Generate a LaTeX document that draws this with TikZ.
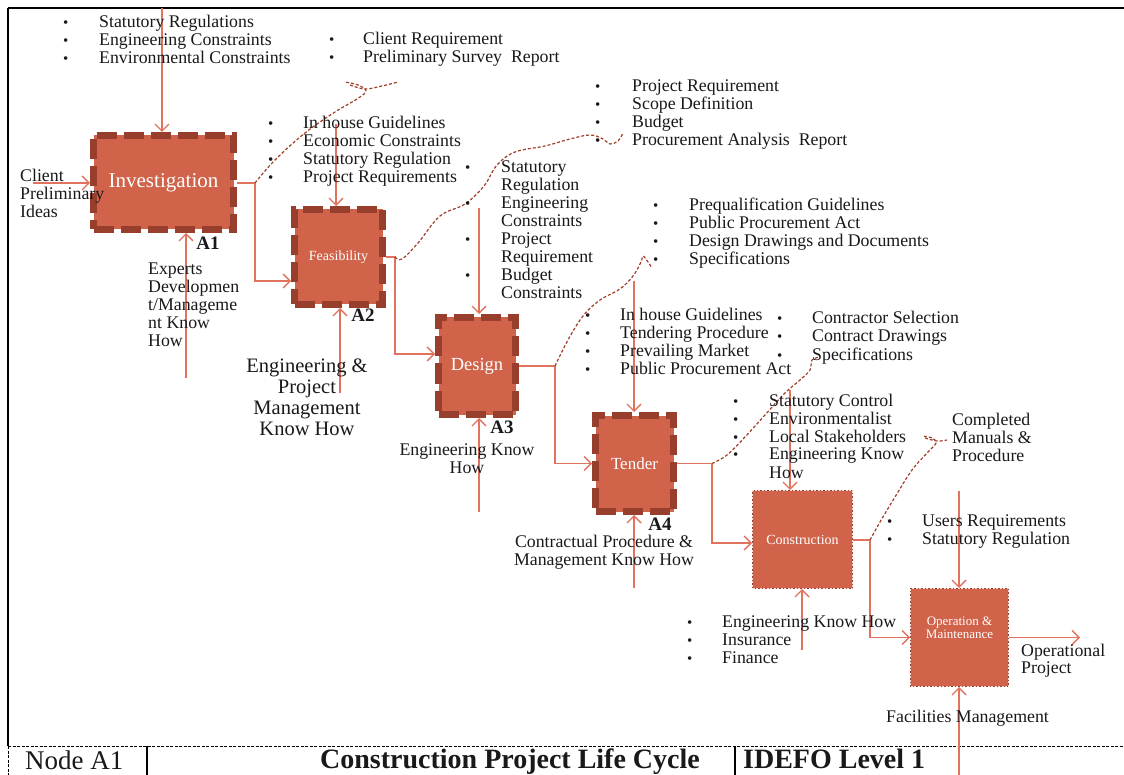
\documentclass[tikz,border=0pt]{standalone}
\usepackage{fontspec}
\setmainfont{Liberation Serif}
\usetikzlibrary{arrows.meta}
\definecolor{boxfill}{RGB}{208,99,74}
\definecolor{boxedge}{RGB}{152,62,44}
\definecolor{arrcol}{RGB}{224,114,94}
\definecolor{squigcol}{RGB}{160,62,40}
\definecolor{ink}{RGB}{25,25,25}
\newcommand{\bul}{{\fontsize{15}{15}\selectfont\textbullet}}
\begin{document}
\begin{tikzpicture}[x=1pt,y=-1pt,
  thickbox/.style={rectangle, fill=boxfill, draw=boxedge, line width=7pt, dash pattern=on 20pt off 7pt, inner sep=0pt, outer sep=3.5pt, text=white, align=center},
  thinbox/.style={rectangle, fill=boxfill, draw=boxedge, line width=1pt, inner sep=0pt, outer sep=0.5pt, text=white, align=center, postaction={draw=white!80!boxfill, line width=0.8pt, dash pattern=on 2pt off 1.5pt}},
  arr/.style={draw=arrcol, line width=1.6pt, -{Straight Barb[length=7pt,width=14pt,line width=1.4pt]}},
  squig/.style={draw=squigcol, line width=1.2pt, dash pattern=on 3pt off 2pt},
  txt/.style={inner sep=0pt, anchor=base west, text=ink, font=\fontsize{17.8}{18}\selectfont},
  ctxt/.style={inner sep=0pt, anchor=base, text=ink, font=\fontsize{17.8}{18}\selectfont},
  alabel/.style={inner sep=0pt, anchor=base, text=ink, font=\bfseries\fontsize{19}{19}\selectfont},
  frame/.style={draw=black, line width=1.2pt},
]
\clip (0,0) rectangle (1124,775);
\fill[white] (0,0) rectangle (1124,775);

% frame
\draw[frame] (8,8) -- (1124,8);
\draw[frame] (8,8) -- (8,746);
\draw[frame, line width=0.9pt, dash pattern=on 3pt off 1.5pt] (8,746) -- (1124,746);
\draw[frame, line width=0.9pt, dash pattern=on 3pt off 1.5pt] (8,746) -- (8,775);
\draw[frame] (147,746) -- (147,775);
\draw[frame] (735,746) -- (735,775);

% boxes
\node[thickbox, minimum width=140pt, minimum height=94pt, font=\fontsize{21}{21}\selectfont] (A1) at (163.5,182.5) {Investigation};
\node[thickbox, minimum width=88pt, minimum height=95pt, font=\fontsize{14}{14}\selectfont] (A2) at (338.5,257) {Feasibility};
\node[thickbox, minimum width=77pt, minimum height=97pt, font=\fontsize{18.5}{18.5}\selectfont] (A3) at (477,366) {Design};
\node[thickbox, minimum width=78pt, minimum height=96pt, font=\fontsize{17}{17}\selectfont] (A4) at (634.5,463.5) {Tender};
\node[thinbox, minimum width=100pt, minimum height=98pt, font=\fontsize{14}{14}\selectfont] (A5) at (802.5,539.5) {Construction};
\node[thinbox, minimum width=98pt, minimum height=98pt] (A6) at (959.5,637.5) {};
\node[text=white, font=\fontsize{13}{13}\selectfont, align=center, inner sep=0pt] (A6t) at (959.5,628) {Operation \&\\Maintenance};

% box numbers
\node[alabel] (L1) at (208,250) {A1};
\node[alabel] (L2) at (363,322) {A2};
\node[alabel] (L3) at (502,433) {A3};
\node[alabel] (L4) at (660,530) {A4};

% helper coordinates
\coordinate (in1) at (33,183);
\coordinate (c1) at (162,8);
\coordinate (m1) at (186,378);
\coordinate (j1) at (255,183);
\coordinate (y281) at (0,281);
\coordinate (c2) at (336,124);
\coordinate (m2) at (340,393);
\coordinate (j2) at (395,257);
\coordinate (y354) at (0,354);
\coordinate (c3) at (479,208);
\coordinate (m3) at (479,512);
\coordinate (j3) at (555,366);
\coordinate (c4) at (634,281);
\coordinate (m4) at (634,588);
\coordinate (j4) at (712,463.5);
\coordinate (y543) at (0,543);
\coordinate (c5) at (790,390);
\coordinate (m5) at (802,650);
\coordinate (j5) at (870,540);
\coordinate (c6) at (959,491);
\coordinate (m6) at (959,775);
\coordinate (o6) at (1080,637.5);

% arrows
\draw[arr] (in1) -- (in1 -| A1.west);
\draw[arr] (c1) -- (c1 |- A1.north);
\draw[arr] (m1) -- (m1 |- A1.south);
\draw[arr] (A1.east |- j1) -- (j1) |- (A2.west |- y281);

\draw[arr] (c2) -- (c2 |- A2.north);
\draw[arr] (m2) -- (m2 |- A2.south);
\draw[arr] (A2.east |- j2) -- (j2) |- (A3.west |- y354);

\draw[arr] (c3) -- (c3 |- A3.north);
\draw[arr] (m3) -- (m3 |- A3.south);
\draw[arr] (A3.east |- j3) -- (j3) |- (A4.west);

\draw[arr] (c4) -- (c4 |- A4.north);
\draw[arr] (m4) -- (m4 |- A4.south);
\draw[arr] (A4.east) -- (j4) |- (A5.west |- y543);

\draw[arr] (c5) -- (c5 |- A5.north);
\draw[arr] (m5) -- (m5 |- A5.south);
\draw[arr] (A5.east |- j5) -- (j5) |- (A6.west);

\draw[arr] (c6) -- (c6 |- A6.north);
\draw[arr] (m6) -- (m6 |- A6.south);
\draw[arr] (A6.east) -- (o6);

% squiggles
\draw[squig] plot[smooth, tension=0.6] coordinates {(j1) (275,160) (305,133) (335,112) (357,99) (366,91) (358,85) (345,82)};
\draw[squig] plot[smooth, tension=0.6] coordinates {(350,85) (365,89) (382,86) (398,82)};
\draw[squig] plot[smooth, tension=0.6] coordinates {(j2) (402,259) (418,243) (440,216) (465,204) (484,186) (497,165) (515,152) (545,146) (570,139) (590,135) (603,139) (610,144) (618,141) (623,133)};
\draw[squig] plot[smooth, tension=0.6] coordinates {(j3) (568,340) (583,316) (600,300) (620,289) (633,276) (641,262) (643,256) (648,262) (652,268)};
\draw[squig] plot[smooth, tension=0.6] coordinates {(j4) (727,455) (745,437) (765,415) (785,393) (800,380) (810,370) (812,360) (820,357)};
\draw[squig] plot[smooth, tension=0.6] coordinates {(j5) (880,522) (895,497) (912,470) (928,452) (936,443) (932,438) (922,436)};
\draw[squig] plot[smooth, tension=0.6] coordinates {(925,438) (937,441) (947,440)};

% texts
\node[txt] (t1) at (63,28) {\begin{tabular}[t]{@{}p{36pt}@{}l@{}}\bul&Statutory Regulations\\\bul&Engineering Constraints\\\bul&Environmental Constraints\end{tabular}};
\node[txt] (t2) at (329,45) {\begin{tabular}[t]{@{}p{34pt}@{}l@{}}\bul&Client Requirement\\\bul&Preliminary Survey\ \ Report\end{tabular}};
\node[txt] (t3) at (20,182) {\begin{tabular}[t]{@{}l@{}}Client\\Preliminary\\Ideas\end{tabular}};
\node[txt] (t4) at (148,275) {\begin{tabular}[t]{@{}l@{}}Experts\\Developmen\\t/Manageme\\nt Know\\How\end{tabular}};
\node[txt] (t5) at (268,129) {\begin{tabular}[t]{@{}p{35pt}@{}l@{}}\bul&In house Guidelines\\\bul&Economic Constraints\\\bul&Statutory Regulation\\\bul&Project Requirements\end{tabular}};
\node[ctxt, font=\fontsize{20.5}{21.2}\selectfont] (t6) at (307,372) {\begin{tabular}[t]{@{}c@{}}Engineering \&\\Project\\Management\\Know How\end{tabular}};
\node[txt] (t7) at (595,92) {\begin{tabular}[t]{@{}p{37pt}@{}l@{}}\bul&Project Requirement\\\bul&Scope Definition\\\bul&Budget\\\bul&Procurement Analysis\ \ Report\end{tabular}};
\node[txt] (t8) at (465,173) {\begin{tabular}[t]{@{}p{36pt}@{}l@{}}\bul&Statutory\\&Regulation\\\bul&Engineering\\&Constraints\\\bul&Project\\&Requirement\\\bul&Budget\\&Constraints\end{tabular}};
\node[txt, font=\fontsize{17.8}{17.8}\selectfont] (t9) at (653,211) {\begin{tabular}[t]{@{}p{36pt}@{}l@{}}\bul&Prequalification Guidelines\\\bul&Public Procurement Act\\\bul&Design Drawings and Documents\\\bul&Specifications\end{tabular}};
\node[ctxt] (t10) at (467,455) {\begin{tabular}[t]{@{}c@{}}Engineering Know\\How\end{tabular}};
\node[txt, font=\fontsize{17.8}{17.8}\selectfont] (t11) at (585,321) {\begin{tabular}[t]{@{}p{35pt}@{}l@{}}\bul&In house Guidelines\\\bul&Tendering Procedure\\\bul&Prevailing Market\\\bul&Public Procurement Act\end{tabular}};
\node[txt] (t12) at (777,324) {\begin{tabular}[t]{@{}p{35pt}@{}l@{}}\bul&Contractor Selection\\\bul&Contract Drawings\\\bul&Specifications\end{tabular}};
\node[ctxt] (t13) at (604,547) {\begin{tabular}[t]{@{}c@{}}Contractual Procedure \&\\Management Know How\end{tabular}};
\node[txt] (t14) at (733,406) {\begin{tabular}[t]{@{}p{36pt}@{}l@{}}\bul&Statutory Control\\\bul&Environmentalist\\\bul&Local Stakeholders\\\bul&Engineering Know\\&How\end{tabular}};
\node[txt] (t15) at (952,425) {\begin{tabular}[t]{@{}l@{}}Completed\\Manuals \&\\Procedure\end{tabular}};
\node[txt] (t16) at (887,526) {\begin{tabular}[t]{@{}p{35pt}@{}l@{}}\bul&Users Requirements\\\bul&Statutory Regulation\end{tabular}};
\node[txt] (t17) at (687,627) {\begin{tabular}[t]{@{}p{35pt}@{}l@{}}\bul&Engineering Know How\\\bul&Insurance\\\bul&Finance\end{tabular}};
\node[txt, font=\fontsize{17.8}{17.5}\selectfont] (t18) at (1021,656) {\begin{tabular}[t]{@{}l@{}}Operational\\Project\end{tabular}};
\node[txt] (t19) at (886,722) {Facilities Management};

% title bar
\node[anchor=base west, inner sep=0pt, text=ink, font=\fontsize{27}{27}\selectfont] (n1) at (25,769) {Node A1};
\node[anchor=base, inner sep=0pt, text=ink, font=\bfseries\fontsize{28}{28}\selectfont] (n2) at (510,768) {Construction Project Life Cycle};
\node[anchor=base west, inner sep=0pt, text=ink, font=\bfseries\fontsize{28}{28}\selectfont] (n3) at (743,768) {IDEFO Level 1};
\end{tikzpicture}
\end{document}
